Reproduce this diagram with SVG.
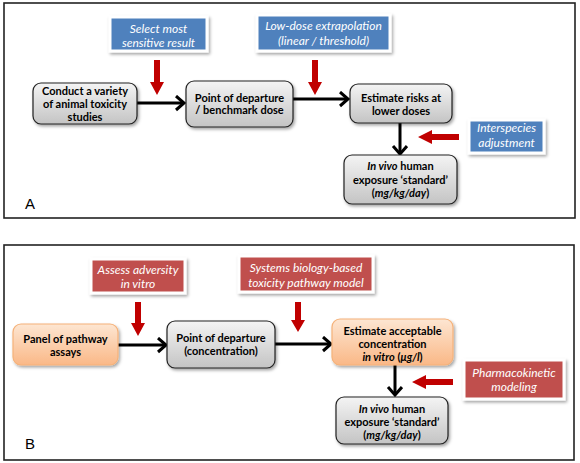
<svg xmlns="http://www.w3.org/2000/svg" width="580" height="463" viewBox="0 0 580 463">
<defs>
<linearGradient id="gGray" x1="0" y1="0" x2="0" y2="1">
<stop offset="0" stop-color="#f4f4f4"/>
<stop offset="1" stop-color="#c4c4c4"/>
</linearGradient>
<linearGradient id="gOrange" x1="0" y1="0" x2="0" y2="1">
<stop offset="0" stop-color="#fde6d2"/>
<stop offset="1" stop-color="#fab887"/>
</linearGradient>
<filter id="sh" x="-20%" y="-20%" width="150%" height="160%">
<feDropShadow dx="1.5" dy="2" stdDeviation="1.5" flood-color="#000" flood-opacity="0.35"/>
</filter>
<marker id="chev" markerUnits="userSpaceOnUse" markerWidth="14" markerHeight="18" refX="10" refY="8" orient="auto">
<path d="M2,1 L10,8 L2,15" fill="none" stroke="#000" stroke-width="3"/>
</marker>
</defs>
<style>
.frame{fill:#fff;stroke:#222;stroke-width:1.6}
.gray{fill:url(#gGray);stroke:#222;stroke-width:1.2;filter:url(#sh)}
.orange{fill:url(#gOrange);stroke:#f5b27a;stroke-width:1.2;filter:url(#sh)}
.blue{fill:#4f81bd;stroke:#fff;stroke-width:3;filter:url(#sh)}
.red{fill:#c0504d;stroke:#fff;stroke-width:3;filter:url(#sh)}
.nt{font-family:Lato,"Open Sans","Liberation Sans",sans-serif;font-weight:bold;font-size:11px;fill:#000;text-anchor:middle}
.lt{font-family:Lato,"Open Sans","Liberation Sans",sans-serif;font-style:italic;font-size:12px;fill:#fff;text-anchor:middle}
.pl{font-family:"Liberation Sans",Arial,sans-serif;font-size:15px;fill:#000}
.conn{stroke:#000;stroke-width:3;fill:none}
.rarrow{fill:#c00000}
.i{font-style:italic}
</style>

<rect class="frame" x="4" y="3" width="571" height="215"/>
<rect class="frame" x="4" y="245" width="570" height="215"/>
<text class="pl" x="25" y="209">A</text>
<text class="pl" x="25" y="449">B</text>

<g id="connectors">
<line class="conn" x1="137" y1="103" x2="184" y2="103" marker-end="url(#chev)"/>
<line class="conn" x1="293" y1="99" x2="348" y2="99" marker-end="url(#chev)"/>
<line class="conn" x1="400" y1="123" x2="400" y2="154" marker-end="url(#chev)"/>
<line class="conn" x1="118" y1="345" x2="166" y2="345" marker-end="url(#chev)"/>
<line class="conn" x1="275" y1="344" x2="331" y2="344" marker-end="url(#chev)"/>
<line class="conn" x1="395" y1="365" x2="395" y2="395" marker-end="url(#chev)"/>
<polygon class="rarrow" points="154,60 160,60 160,82 164,82 157,95 150,82 154,82"/>
<polygon class="rarrow" points="312,60 318,60 318,82 322,82 315,95 308,82 312,82"/>
<polygon class="rarrow" points="459,134 459,140 432,140 432,144 418,137 432,130 432,134"/>
<polygon class="rarrow" points="135,302 141,302 141,323 145,323 138,336 131,323 135,323"/>
<polygon class="rarrow" points="295,302 301,302 301,320 305,320 298,332 291,320 295,320"/>
<polygon class="rarrow" points="453,379 453,385 426,385 426,389 412,382 426,375 426,379"/>
</g>

<g id="lbl-select">
<rect class="blue" x="110" y="17" width="97" height="34"/>
<text class="lt" x="158.5" y="33">Select most</text>
<text class="lt" x="158.5" y="47">sensitive result</text>
</g>
<g id="lbl-lowdose">
<rect class="blue" x="257" y="15" width="133" height="36"/>
<text class="lt" x="323.5" y="30">Low-dose extrapolation</text>
<text class="lt" x="323.5" y="45">(linear / threshold)</text>
</g>
<g id="lbl-interspecies">
<rect class="blue" x="469" y="120" width="75" height="33"/>
<text class="lt" x="506.5" y="132">Interspecies</text>
<text class="lt" x="506.5" y="147">adjustment</text>
</g>

<g id="nodeA1">
<rect class="gray" x="33" y="83" width="104" height="41" rx="8"/>
<text class="nt" x="85" y="95">Conduct a variety</text>
<text class="nt" x="85" y="108">of animal toxicity</text>
<text class="nt" x="85" y="121">studies</text>
</g>
<g id="nodeA2">
<rect class="gray" x="186" y="81" width="107" height="46" rx="8"/>
<text class="nt" x="239.5" y="102">Point of departure</text>
<text class="nt" x="239.5" y="114">/ benchmark dose</text>
</g>
<g id="nodeA3">
<rect class="gray" x="350" y="84" width="102" height="39" rx="8"/>
<text class="nt" x="401" y="102">Estimate risks at</text>
<text class="nt" x="401" y="115">lower doses</text>
</g>
<g id="nodeA4">
<rect class="gray" x="344" y="155" width="113" height="49" rx="8"/>
<text class="nt" x="400.5" y="170"><tspan class="i">In vivo</tspan> human</text>
<text class="nt" x="400.5" y="184">exposure ‘standard’</text>
<text class="nt" x="400.5" y="197">(<tspan class="i">mg/kg/day</tspan>)</text>
</g>

<g id="lbl-assess">
<rect class="red" x="91" y="259" width="94" height="34"/>
<text class="lt" x="138" y="274">Assess adversity</text>
<text class="lt" x="138" y="288">in vitro</text>
</g>
<g id="lbl-systems">
<rect class="red" x="239" y="256" width="134" height="36"/>
<text class="lt" x="306" y="272">Systems biology-based</text>
<text class="lt" x="306" y="287">toxicity pathway model</text>
</g>
<g id="lbl-pk">
<rect class="red" x="464" y="360" width="100" height="39"/>
<text class="lt" x="514" y="377">Pharmacokinetic</text>
<text class="lt" x="514" y="391">modeling</text>
</g>

<g id="nodeB1">
<rect class="orange" x="13" y="324" width="105" height="41" rx="8"/>
<text class="nt" x="65.5" y="343">Panel of pathway</text>
<text class="nt" x="65.5" y="356">assays</text>
</g>
<g id="nodeB2">
<rect class="gray" x="167" y="321" width="108" height="47" rx="8"/>
<text class="nt" x="221" y="342">Point of departure</text>
<text class="nt" x="221" y="355">(concentration)</text>
</g>
<g id="nodeB3">
<rect class="orange" x="332" y="319" width="121" height="46" rx="8"/>
<text class="nt" x="392.5" y="335">Estimate acceptable</text>
<text class="nt" x="392.5" y="348">concentration</text>
<text class="nt" x="392.5" y="361"><tspan class="i">in vitro</tspan> (<tspan class="i">μg/l</tspan>)</text>
</g>
<g id="nodeB4">
<rect class="gray" x="336" y="397" width="112" height="47" rx="8"/>
<text class="nt" x="392" y="413"><tspan class="i">In vivo</tspan> human</text>
<text class="nt" x="392" y="426">exposure ‘standard’</text>
<text class="nt" x="392" y="439">(<tspan class="i">mg/kg/day</tspan>)</text>
</g>
</svg>
